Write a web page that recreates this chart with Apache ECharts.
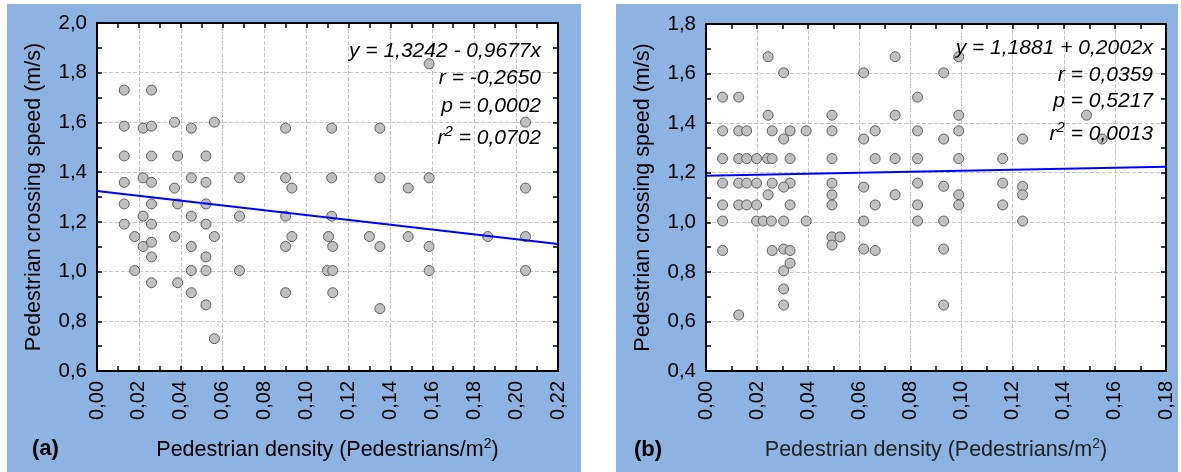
<!DOCTYPE html>
<html>
<head>
<meta charset="utf-8">
<title>Pedestrian crossing speed vs density</title>
<script src="https://cdn.jsdelivr.net/npm/echarts@6/dist/echarts.min.js"></script>
<style>
  html, body { margin: 0; padding: 0; background: #fff; }
  #chart { width: 1181px; height: 472px; }
</style>
</head>
<body>
<div id="chart"></div>
<script>
// panel (a): density vs crossing speed
var densityA = [
  0.013, 0.026, 0.013, 0.022, 0.026, 0.037, 0.045, 0.056, 0.090,
  0.013, 0.026, 0.0385, 0.052,
  0.013, 0.022, 0.026, 0.037, 0.045, 0.052, 0.068, 0.090, 0.093,
  0.013, 0.026, 0.0385, 0.052,
  0.013, 0.022, 0.026, 0.045, 0.052, 0.068, 0.090,
  0.018, 0.022, 0.026, 0.037, 0.045, 0.056, 0.026, 0.052, 0.090, 0.093,
  0.018, 0.045, 0.052, 0.068, 0.026, 0.0385, 0.045, 0.052, 0.090, 0.056,
  0.112, 0.135, 0.1585, 0.2045, 0.112, 0.135, 0.1485, 0.1585, 0.2045,
  0.112, 0.1105, 0.1125, 0.130, 0.135, 0.1485, 0.1585, 0.1865, 0.2045,
  0.110, 0.1125, 0.1585, 0.2045, 0.1125, 0.135
];
var speedA = [
  1.730, 1.730, 1.585, 1.577, 1.585, 1.601, 1.577, 1.601, 1.577,
  1.465, 1.465, 1.465, 1.465,
  1.359, 1.377, 1.359, 1.336, 1.377, 1.359, 1.377, 1.377, 1.336,
  1.272, 1.272, 1.272, 1.272,
  1.191, 1.223, 1.191, 1.223, 1.191, 1.223, 1.223,
  1.141, 1.101, 1.118, 1.141, 1.101, 1.141, 1.059, 1.059, 1.101, 1.141,
  1.004, 1.004, 1.004, 1.004, 0.955, 0.955, 0.915, 0.866, 0.915, 0.730,
  1.577, 1.577, 1.836, 1.601, 1.377, 1.377, 1.336, 1.377, 1.336,
  1.223, 1.141, 1.101, 1.141, 1.101, 1.141, 1.101, 1.141, 1.141,
  1.004, 1.004, 1.004, 1.004, 0.915, 0.851
];

// panel (b)
var densityB = [
  0.0243, 0.074, 0.0304, 0.0617,
  0.0065, 0.0128, 0.0828,
  0.0243, 0.0493, 0.074,
  0.0065, 0.0128, 0.0159, 0.0259, 0.0329, 0.0392, 0.0493, 0.0662, 0.0828,
  0.0304, 0.0617,
  0.0065, 0.0128, 0.0159, 0.0198, 0.0241, 0.0259, 0.0329, 0.0493, 0.0662, 0.074, 0.0828,
  0.0065, 0.0128, 0.0159, 0.0198, 0.0259, 0.0329, 0.0493, 0.0828,
  0.0304, 0.0617,
  0.0243, 0.0493, 0.074,
  0.0065, 0.0128, 0.0159, 0.0198, 0.0329, 0.0493, 0.0662, 0.0828,
  0.0065, 0.0198, 0.0224, 0.0256, 0.0304, 0.0392, 0.0617, 0.0828,
  0.0493, 0.0524, 0.0493,
  0.0065, 0.0259, 0.0304, 0.0329, 0.0617, 0.0662,
  0.0329, 0.0304, 0.0304, 0.0304, 0.0128,
  0.093, 0.0989, 0.0989, 0.0989, 0.093, 0.1239, 0.1489, 0.155, 0.0989, 0.1161,
  0.093, 0.0989, 0.0989, 0.1161, 0.1161, 0.1239, 0.1239, 0.1239, 0.093, 0.093, 0.093
];
var speedB = [
  1.668, 1.668, 1.603, 1.603,
  1.505, 1.505, 1.505,
  1.432, 1.432, 1.432,
  1.369, 1.369, 1.369, 1.369, 1.369, 1.369, 1.369, 1.369, 1.369,
  1.336, 1.336,
  1.257, 1.257, 1.257, 1.257, 1.257, 1.257, 1.257, 1.257, 1.257, 1.257, 1.257,
  1.158, 1.158, 1.158, 1.158, 1.158, 1.158, 1.158, 1.158,
  1.142, 1.142,
  1.111, 1.111, 1.111,
  1.070, 1.070, 1.070, 1.070, 1.070, 1.070, 1.070, 1.070,
  1.005, 1.005, 1.005, 1.005, 1.005, 1.005, 1.005, 1.005,
  0.941, 0.941, 0.908,
  0.886, 0.886, 0.892, 0.886, 0.892, 0.886,
  0.835, 0.804, 0.731, 0.666, 0.626,
  1.603, 1.668, 1.432, 1.369, 1.336, 1.336, 1.432, 1.336, 1.257, 1.257,
  1.145, 1.111, 1.070, 1.158, 1.070, 1.145, 1.111, 1.005, 1.005, 0.892, 0.666
];

// fitted lines: [intercept, slope]
var fitA = [1.3242, -0.9677];
var fitB = [1.1881, 0.2002];
var statsA = ['y = 1,3242 - 0,9677x', 'r = -0,2650', 'p = 0,0002', '{t|r}{s|2}{t| = 0,0702}'];
var statsB = ['y = 1,1881 + 0,2002x', 'r = 0,0359', 'p = 0,5217', '{t|r}{s|2}{t| = 0,0013}'];

var FONT = 'Liberation Sans, Arial, sans-serif';

function pairs(xs, ys) {
  return xs.map(function (x, i) { return [x, ys[i]]; });
}
function fitLine(fit, xmax) {
  return [[0, fit[0]], [xmax, fit[0] + fit[1] * xmax]];
}
function comma(d) {
  return function (v) { return v.toFixed(d).replace('.', ','); };
}

function xAxes(grid, max, nameColor) {
  var tick = { show: true, inside: true, length: 5, lineStyle: { color: '#000', width: 1.5 } };
  var minor = { show: true, splitNumber: 2, length: 5, lineStyle: { color: '#000', width: 1.5 } };
  return [
    {
      gridIndex: grid, type: 'value', min: 0, max: max, interval: 0.02, position: 'bottom',
      axisLine: { onZero: false, lineStyle: { color: '#000', width: 2 } },
      axisTick: tick, minorTick: minor,
      axisLabel: { rotate: 90, margin: 10, fontSize: 20, color: '#000', fontFamily: FONT, formatter: comma(2) },
      splitLine: { show: true, lineStyle: { type: 'dashed', color: '#c4c4c4' } },
      name: 'Pedestrian density (Pedestrians/m{s|2})', nameLocation: 'middle', nameGap: 66,
      nameTextStyle: {
        fontSize: 21.5, color: nameColor, fontFamily: FONT, lineHeight: 26,
        rich: { s: { fontSize: 14, color: nameColor, fontFamily: FONT, verticalAlign: 'top', lineHeight: 14 } }
      }
    },
    {
      gridIndex: grid, type: 'value', min: 0, max: max, interval: 0.02, position: 'top',
      axisLine: { onZero: false, lineStyle: { color: '#000', width: 2 } },
      axisTick: tick, minorTick: minor,
      axisLabel: { show: false }, splitLine: { show: false }
    }
  ];
}

function yAxes(grid, min, max) {
  var tick = { show: true, inside: true, length: 5, lineStyle: { color: '#000', width: 1.5 } };
  var minor = { show: true, splitNumber: 2, length: 5, lineStyle: { color: '#000', width: 1.5 } };
  return [
    {
      gridIndex: grid, type: 'value', min: min, max: max, interval: 0.2, position: 'left',
      axisLine: { show: true, onZero: false, lineStyle: { color: '#000', width: 2 } },
      axisTick: tick, minorTick: minor,
      axisLabel: { margin: 10, fontSize: 20.5, color: '#000', fontFamily: FONT, formatter: comma(1) },
      splitLine: { show: true, lineStyle: { type: 'dashed', color: '#c4c4c4' } },
      name: 'Pedestrian crossing speed (m/s)', nameLocation: 'middle', nameGap: 52,
      nameTextStyle: { fontSize: 21.5, color: '#000', fontFamily: FONT }
    },
    {
      gridIndex: grid, type: 'value', min: min, max: max, interval: 0.2, position: 'right',
      axisLine: { show: true, onZero: false, lineStyle: { color: '#000', width: 2 } },
      axisTick: tick, minorTick: minor,
      axisLabel: { show: false }, splitLine: { show: false }
    }
  ];
}

function statTexts(lines, right, ys) {
  return lines.map(function (t, i) {
    return {
      type: 'text', z: 100,
      style: {
        text: t, x: right, y: ys[i], align: 'right', verticalAlign: 'middle',
        fontSize: 21, fontStyle: 'italic', fontFamily: FONT, fill: '#000',
        rich: {
          t: { fontSize: 21, fontStyle: 'italic', fontFamily: FONT, lineHeight: 28 },
          s: { fontSize: 15, fontStyle: 'italic', fontFamily: FONT, verticalAlign: 'top', lineHeight: 15 }
        }
      }
    };
  });
}

var myChart = echarts.init(document.getElementById('chart'));

var option = {
  animation: false,
  backgroundColor: '#fff',
  graphic: [
    { type: 'rect', z: -10, shape: { x: 7, y: 4, width: 574, height: 468 }, style: { fill: '#8db3e2' } },
    { type: 'rect', z: -10, shape: { x: 616, y: 4, width: 562, height: 468 }, style: { fill: '#8db3e2' } },
    { type: 'text', style: { text: '(a)', x: 32, y: 449, verticalAlign: 'middle', font: 'bold 22px ' + FONT, fill: '#000' } },
    { type: 'text', style: { text: '(b)', x: 634, y: 450, verticalAlign: 'middle', font: 'bold 22px ' + FONT, fill: '#000' } }
  ].concat(statTexts(statsA, 541, [51, 78, 106, 138]))
   .concat(statTexts(statsB, 1153, [48, 75, 101, 134])),
  grid: [
    { left: 97, top: 23, width: 461, height: 348, show: true, backgroundColor: '#fff', borderWidth: 0 },
    { left: 706, top: 24, width: 460, height: 347, show: true, backgroundColor: '#fff', borderWidth: 0 }
  ],
  xAxis: xAxes(0, 0.22, '#000').concat(xAxes(1, 0.18, '#222')),
  yAxis: yAxes(0, 0.6, 2.0).concat(yAxes(1, 0.4, 1.8)),
  series: [
    {
      type: 'scatter', xAxisIndex: 0, yAxisIndex: 0, data: pairs(densityA, speedA),
      symbolSize: 10, itemStyle: { color: '#c0c0c0', borderColor: '#5e5e5e', borderWidth: 1, opacity: 1 }
    },
    {
      type: 'line', xAxisIndex: 0, yAxisIndex: 0, data: fitLine(fitA, 0.22),
      symbol: 'none', lineStyle: { color: '#0000ff', width: 2 }, z: 5
    },
    {
      type: 'scatter', xAxisIndex: 2, yAxisIndex: 2, data: pairs(densityB, speedB),
      symbolSize: 10, itemStyle: { color: '#c0c0c0', borderColor: '#5e5e5e', borderWidth: 1, opacity: 1 }
    },
    {
      type: 'line', xAxisIndex: 2, yAxisIndex: 2, data: fitLine(fitB, 0.18),
      symbol: 'none', lineStyle: { color: '#0000ff', width: 2 }, z: 5
    }
  ]
};

myChart.setOption(option);
</script>
</body>
</html>
